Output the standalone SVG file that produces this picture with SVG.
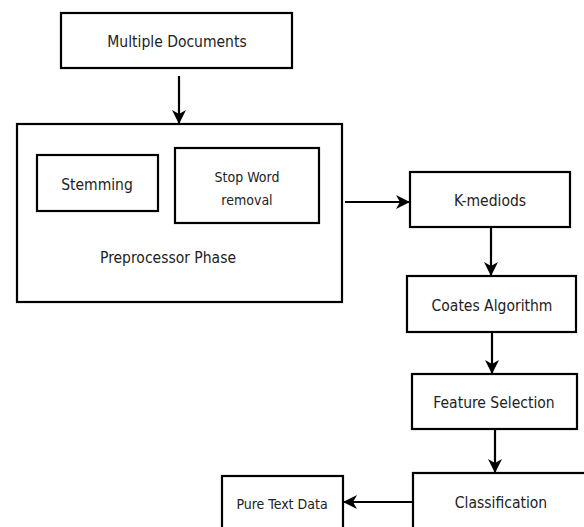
<svg xmlns="http://www.w3.org/2000/svg" width="584" height="527" viewBox="0 0 584 527">
<defs>
<style>
.box{fill:#fff;stroke:#000;stroke-width:2.2}
.t{font-family:"DejaVu Sans Condensed","DejaVu Sans",sans-serif;font-size:15.5px;fill:#222;text-anchor:middle;dominant-baseline:central}
.s{font-size:14px}
.c{stroke:#000;stroke-width:2.2;fill:none}
</style>
<marker id="ah" viewBox="0 0 14 14" refX="13" refY="7" markerWidth="14" markerHeight="14" markerUnits="userSpaceOnUse" orient="auto">
<path d="M0,0 L14,7 L0,14 L4,7 Z" fill="#000"/>
</marker>
</defs>
<rect width="584" height="527" fill="#fff"/>
<g id="multiple-documents"><rect class="box" x="61" y="13" width="231" height="55"/><text class="t" x="177" y="42">Multiple Documents</text></g>
<g id="preprocessor"><rect class="box" x="17" y="124" width="325" height="178"/><text class="t" x="168" y="258">Preprocessor Phase</text></g>
<g id="stemming"><rect class="box" x="37" y="155" width="121" height="56"/><text class="t" x="97" y="185">Stemming</text></g>
<g id="stop-word"><rect class="box" x="175" y="148" width="144" height="75"/><text class="t s" x="247" y="177">Stop Word</text><text class="t s" x="247" y="200">removal</text></g>
<g id="k-mediods"><rect class="box" x="410" y="172" width="160" height="55"/><text class="t" x="490" y="201">K-mediods</text></g>
<g id="coates"><rect class="box" x="407" y="276" width="169" height="56"/><text class="t" x="492" y="306">Coates Algorithm</text></g>
<g id="feature-selection"><rect class="box" x="412" y="374" width="165" height="55"/><text class="t" x="494" y="403">Feature Selection</text></g>
<g id="classification"><rect class="box" x="413" y="473" width="180" height="70"/><text class="t" x="501" y="503">Classification</text></g>
<g id="pure-text"><rect class="box" x="222" y="476" width="121" height="70"/><text class="t s" x="282" y="504">Pure Text Data</text></g>
<g id="connectors">
<line class="c" x1="179" y1="76" x2="179" y2="123" marker-end="url(#ah)"/>
<line class="c" x1="345" y1="202" x2="409" y2="202" marker-end="url(#ah)"/>
<line class="c" x1="491" y1="227" x2="491" y2="275" marker-end="url(#ah)"/>
<line class="c" x1="492" y1="332" x2="492" y2="373" marker-end="url(#ah)"/>
<line class="c" x1="495" y1="429" x2="495" y2="472" marker-end="url(#ah)"/>
<line class="c" x1="413" y1="502" x2="344" y2="502" marker-end="url(#ah)"/>
</g>
</svg>
